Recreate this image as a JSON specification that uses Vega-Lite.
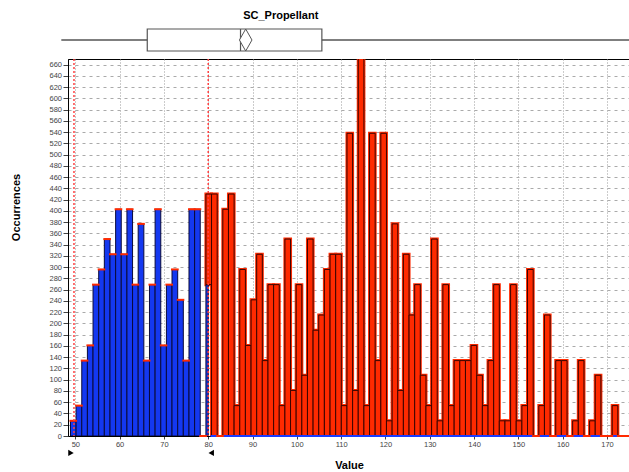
{
  "$schema": "https://vega.github.io/schema/vega-lite/v6.json",
  "padding": {"left": 9, "top": 10, "right": 0, "bottom": 0},
  "background": "white",
  "config": {
    "font": "Liberation Sans",
    "view": {"stroke": null},
    "axisX": {"labelFontSize": 7.5, "labelColor": "#444", "tickColor": "#444", "tickSize": 3, "labelPadding": 1, "titleFontSize": 11, "titleFontWeight": "bold", "titleColor": "#000", "titlePadding": 12, "gridColor": "#999", "gridDash": [1, 2], "domainColor": "#000", "tickCount": 13, "labelOverlap": false},
    "axisY": {"labelFontSize": 7.5, "labelColor": "#444", "tickColor": "#444", "tickSize": 5, "labelPadding": 1.5, "titleFontSize": 11, "titleFontWeight": "bold", "titleColor": "#000", "gridColor": "#aaa", "gridDash": [3, 4], "domainColor": "#000", "tickCount": 34, "labelOverlap": false}
  },
  "title": {"text": "SC_Propellant", "fontSize": 11, "fontWeight": "bold", "font": "Liberation Sans", "anchor": "middle", "dx": -50, "offset": 6},
  "datasets": {
    "box": [{"min": 46.84, "q1": 66.24, "median": 87.29, "q3": 105.65, "max": 180, "mean": 88.46}],
    "limits": [{"limit": 49.7, "side": "lower"}, {"limit": 80, "side": "upper"}],
    "hist": [
      {"grp":"< 80","lo":48.91,"hi":50.18,"n":27},
      {"grp":"< 80","lo":50.18,"hi":51.46,"n":54},
      {"grp":"< 80","lo":51.46,"hi":52.73,"n":134},
      {"grp":"< 80","lo":52.73,"hi":54.00,"n":161},
      {"grp":"< 80","lo":54.00,"hi":55.28,"n":269},
      {"grp":"< 80","lo":55.28,"hi":56.55,"n":296},
      {"grp":"< 80","lo":56.55,"hi":57.83,"n":350},
      {"grp":"< 80","lo":57.83,"hi":59.10,"n":323},
      {"grp":"< 80","lo":59.10,"hi":60.37,"n":403},
      {"grp":"< 80","lo":60.37,"hi":61.65,"n":323},
      {"grp":"< 80","lo":61.65,"hi":62.92,"n":403},
      {"grp":"< 80","lo":62.92,"hi":64.19,"n":269},
      {"grp":"< 80","lo":64.19,"hi":65.47,"n":377},
      {"grp":"< 80","lo":65.47,"hi":66.74,"n":134},
      {"grp":"< 80","lo":66.74,"hi":68.01,"n":269},
      {"grp":"< 80","lo":68.01,"hi":69.29,"n":403},
      {"grp":"< 80","lo":69.29,"hi":70.56,"n":161},
      {"grp":"< 80","lo":70.56,"hi":71.83,"n":269},
      {"grp":"< 80","lo":71.83,"hi":73.11,"n":296},
      {"grp":"< 80","lo":73.11,"hi":74.38,"n":242},
      {"grp":"< 80","lo":74.38,"hi":75.66,"n":134},
      {"grp":"< 80","lo":75.66,"hi":76.93,"n":403},
      {"grp":"< 80","lo":76.93,"hi":78.20,"n":403},
      {"grp":"< 80","lo":78.20,"hi":79.48,"n":0},
      {"grp":"< 80","lo":79.48,"hi":80.00,"n":269},
      {"grp":"< 80","lo":80.75,"hi":82.02,"n":0},
      {"grp":"< 80","lo":82.02,"hi":83.30,"n":0},
      {"grp":"< 80","lo":83.30,"hi":84.57,"n":0},
      {"grp":"< 80","lo":84.57,"hi":85.84,"n":0},
      {"grp":"< 80","lo":85.84,"hi":87.12,"n":0},
      {"grp":"< 80","lo":87.12,"hi":88.39,"n":0},
      {"grp":"< 80","lo":88.39,"hi":89.67,"n":0},
      {"grp":"< 80","lo":89.67,"hi":90.94,"n":0},
      {"grp":"< 80","lo":90.94,"hi":92.21,"n":0},
      {"grp":"< 80","lo":92.21,"hi":93.49,"n":0},
      {"grp":"< 80","lo":93.49,"hi":94.76,"n":0},
      {"grp":"< 80","lo":94.76,"hi":96.03,"n":0},
      {"grp":"< 80","lo":96.03,"hi":97.31,"n":0},
      {"grp":"< 80","lo":97.31,"hi":98.58,"n":0},
      {"grp":"< 80","lo":98.58,"hi":99.85,"n":0},
      {"grp":"< 80","lo":99.85,"hi":101.13,"n":0},
      {"grp":"< 80","lo":101.13,"hi":102.40,"n":0},
      {"grp":"< 80","lo":102.40,"hi":103.67,"n":0},
      {"grp":"< 80","lo":103.67,"hi":104.95,"n":0},
      {"grp":"< 80","lo":104.95,"hi":106.22,"n":0},
      {"grp":"< 80","lo":106.22,"hi":107.50,"n":0},
      {"grp":"< 80","lo":107.50,"hi":108.77,"n":0},
      {"grp":"< 80","lo":108.77,"hi":110.04,"n":0},
      {"grp":"< 80","lo":110.04,"hi":111.32,"n":0},
      {"grp":"< 80","lo":111.32,"hi":112.59,"n":0},
      {"grp":"< 80","lo":112.59,"hi":113.86,"n":0},
      {"grp":"< 80","lo":113.86,"hi":115.14,"n":0},
      {"grp":"< 80","lo":115.14,"hi":116.41,"n":0},
      {"grp":"< 80","lo":116.41,"hi":117.68,"n":0},
      {"grp":"< 80","lo":117.68,"hi":118.96,"n":0},
      {"grp":"< 80","lo":118.96,"hi":120.23,"n":0},
      {"grp":"< 80","lo":120.23,"hi":121.51,"n":0},
      {"grp":"< 80","lo":121.51,"hi":122.78,"n":0},
      {"grp":"< 80","lo":122.78,"hi":124.05,"n":0},
      {"grp":"< 80","lo":124.05,"hi":125.33,"n":0},
      {"grp":"< 80","lo":125.33,"hi":126.60,"n":0},
      {"grp":"< 80","lo":126.60,"hi":127.87,"n":0},
      {"grp":"< 80","lo":127.87,"hi":129.15,"n":0},
      {"grp":"< 80","lo":129.15,"hi":130.42,"n":0},
      {"grp":"< 80","lo":130.42,"hi":131.69,"n":0},
      {"grp":"< 80","lo":131.69,"hi":132.97,"n":0},
      {"grp":"< 80","lo":132.97,"hi":134.24,"n":0},
      {"grp":"< 80","lo":134.24,"hi":135.51,"n":0},
      {"grp":"< 80","lo":135.51,"hi":136.79,"n":0},
      {"grp":"< 80","lo":136.79,"hi":138.06,"n":0},
      {"grp":"< 80","lo":138.06,"hi":139.34,"n":0},
      {"grp":"< 80","lo":139.34,"hi":140.61,"n":0},
      {"grp":"< 80","lo":140.61,"hi":141.88,"n":0},
      {"grp":"< 80","lo":141.88,"hi":143.16,"n":0},
      {"grp":"< 80","lo":143.16,"hi":144.43,"n":0},
      {"grp":"< 80","lo":144.43,"hi":145.70,"n":0},
      {"grp":"< 80","lo":145.70,"hi":146.98,"n":0},
      {"grp":"< 80","lo":146.98,"hi":148.25,"n":0},
      {"grp":"< 80","lo":148.25,"hi":149.52,"n":0},
      {"grp":"< 80","lo":149.52,"hi":150.80,"n":0},
      {"grp":"< 80","lo":150.80,"hi":152.07,"n":0},
      {"grp":"< 80","lo":152.07,"hi":153.35,"n":0},
      {"grp":"< 80","lo":153.35,"hi":154.62,"n":0},
      {"grp":"< 80","lo":154.62,"hi":155.89,"n":0},
      {"grp":"< 80","lo":155.89,"hi":157.17,"n":0},
      {"grp":"< 80","lo":157.17,"hi":158.44,"n":0},
      {"grp":"< 80","lo":158.44,"hi":159.71,"n":0},
      {"grp":"< 80","lo":159.71,"hi":160.99,"n":0},
      {"grp":"< 80","lo":160.99,"hi":162.26,"n":0},
      {"grp":"< 80","lo":162.26,"hi":163.53,"n":0},
      {"grp":"< 80","lo":163.53,"hi":164.81,"n":0},
      {"grp":"< 80","lo":164.81,"hi":166.08,"n":0},
      {"grp":"< 80","lo":166.08,"hi":167.35,"n":0},
      {"grp":"< 80","lo":167.35,"hi":168.63,"n":0},
      {"grp":"< 80","lo":168.63,"hi":169.90,"n":0},
      {"grp":"< 80","lo":169.90,"hi":171.18,"n":0},
      {"grp":"< 80","lo":171.18,"hi":172.45,"n":0},
      {"grp":"≥ 80","lo":48.91,"hi":50.18,"n":0},
      {"grp":"≥ 80","lo":50.18,"hi":51.46,"n":0},
      {"grp":"≥ 80","lo":51.46,"hi":52.73,"n":0},
      {"grp":"≥ 80","lo":52.73,"hi":54.00,"n":0},
      {"grp":"≥ 80","lo":54.00,"hi":55.28,"n":0},
      {"grp":"≥ 80","lo":55.28,"hi":56.55,"n":0},
      {"grp":"≥ 80","lo":56.55,"hi":57.83,"n":0},
      {"grp":"≥ 80","lo":57.83,"hi":59.10,"n":0},
      {"grp":"≥ 80","lo":59.10,"hi":60.37,"n":0},
      {"grp":"≥ 80","lo":60.37,"hi":61.65,"n":0},
      {"grp":"≥ 80","lo":61.65,"hi":62.92,"n":0},
      {"grp":"≥ 80","lo":62.92,"hi":64.19,"n":0},
      {"grp":"≥ 80","lo":64.19,"hi":65.47,"n":0},
      {"grp":"≥ 80","lo":65.47,"hi":66.74,"n":0},
      {"grp":"≥ 80","lo":66.74,"hi":68.01,"n":0},
      {"grp":"≥ 80","lo":68.01,"hi":69.29,"n":0},
      {"grp":"≥ 80","lo":69.29,"hi":70.56,"n":0},
      {"grp":"≥ 80","lo":70.56,"hi":71.83,"n":0},
      {"grp":"≥ 80","lo":71.83,"hi":73.11,"n":0},
      {"grp":"≥ 80","lo":73.11,"hi":74.38,"n":0},
      {"grp":"≥ 80","lo":74.38,"hi":75.66,"n":0},
      {"grp":"≥ 80","lo":75.66,"hi":76.93,"n":0},
      {"grp":"≥ 80","lo":76.93,"hi":78.20,"n":0},
      {"grp":"≥ 80","lo":78.20,"hi":79.48,"n":0},
      {"grp":"≥ 80","lo":79.48,"hi":80.75,"n":161},
      {"grp":"≥ 80","lo":80.75,"hi":82.02,"n":430},
      {"grp":"≥ 80","lo":82.02,"hi":83.30,"n":0},
      {"grp":"≥ 80","lo":83.30,"hi":84.57,"n":403},
      {"grp":"≥ 80","lo":84.57,"hi":85.84,"n":430},
      {"grp":"≥ 80","lo":85.84,"hi":87.12,"n":54},
      {"grp":"≥ 80","lo":87.12,"hi":88.39,"n":296},
      {"grp":"≥ 80","lo":88.39,"hi":89.67,"n":161},
      {"grp":"≥ 80","lo":89.67,"hi":90.94,"n":242},
      {"grp":"≥ 80","lo":90.94,"hi":92.21,"n":323},
      {"grp":"≥ 80","lo":92.21,"hi":93.49,"n":134},
      {"grp":"≥ 80","lo":93.49,"hi":94.76,"n":269},
      {"grp":"≥ 80","lo":94.76,"hi":96.03,"n":269},
      {"grp":"≥ 80","lo":96.03,"hi":97.31,"n":54},
      {"grp":"≥ 80","lo":97.31,"hi":98.58,"n":350},
      {"grp":"≥ 80","lo":98.58,"hi":99.85,"n":81},
      {"grp":"≥ 80","lo":99.85,"hi":101.13,"n":269},
      {"grp":"≥ 80","lo":101.13,"hi":102.40,"n":108},
      {"grp":"≥ 80","lo":102.40,"hi":103.67,"n":350},
      {"grp":"≥ 80","lo":103.67,"hi":104.95,"n":188},
      {"grp":"≥ 80","lo":104.95,"hi":106.22,"n":215},
      {"grp":"≥ 80","lo":106.22,"hi":107.50,"n":296},
      {"grp":"≥ 80","lo":107.50,"hi":108.77,"n":323},
      {"grp":"≥ 80","lo":108.77,"hi":110.04,"n":323},
      {"grp":"≥ 80","lo":110.04,"hi":111.32,"n":54},
      {"grp":"≥ 80","lo":111.32,"hi":112.59,"n":538},
      {"grp":"≥ 80","lo":112.59,"hi":113.86,"n":81},
      {"grp":"≥ 80","lo":113.86,"hi":115.14,"n":672},
      {"grp":"≥ 80","lo":115.14,"hi":116.41,"n":54},
      {"grp":"≥ 80","lo":116.41,"hi":117.68,"n":538},
      {"grp":"≥ 80","lo":117.68,"hi":118.96,"n":134},
      {"grp":"≥ 80","lo":118.96,"hi":120.23,"n":538},
      {"grp":"≥ 80","lo":120.23,"hi":121.51,"n":27},
      {"grp":"≥ 80","lo":121.51,"hi":122.78,"n":377},
      {"grp":"≥ 80","lo":122.78,"hi":124.05,"n":81},
      {"grp":"≥ 80","lo":124.05,"hi":125.33,"n":323},
      {"grp":"≥ 80","lo":125.33,"hi":126.60,"n":215},
      {"grp":"≥ 80","lo":126.60,"hi":127.87,"n":269},
      {"grp":"≥ 80","lo":127.87,"hi":129.15,"n":108},
      {"grp":"≥ 80","lo":129.15,"hi":130.42,"n":54},
      {"grp":"≥ 80","lo":130.42,"hi":131.69,"n":350},
      {"grp":"≥ 80","lo":131.69,"hi":132.97,"n":27},
      {"grp":"≥ 80","lo":132.97,"hi":134.24,"n":269},
      {"grp":"≥ 80","lo":134.24,"hi":135.51,"n":54},
      {"grp":"≥ 80","lo":135.51,"hi":136.79,"n":134},
      {"grp":"≥ 80","lo":136.79,"hi":138.06,"n":134},
      {"grp":"≥ 80","lo":138.06,"hi":139.34,"n":134},
      {"grp":"≥ 80","lo":139.34,"hi":140.61,"n":161},
      {"grp":"≥ 80","lo":140.61,"hi":141.88,"n":108},
      {"grp":"≥ 80","lo":141.88,"hi":143.16,"n":54},
      {"grp":"≥ 80","lo":143.16,"hi":144.43,"n":134},
      {"grp":"≥ 80","lo":144.43,"hi":145.70,"n":269},
      {"grp":"≥ 80","lo":145.70,"hi":146.98,"n":27},
      {"grp":"≥ 80","lo":146.98,"hi":148.25,"n":27},
      {"grp":"≥ 80","lo":148.25,"hi":149.52,"n":269},
      {"grp":"≥ 80","lo":149.52,"hi":150.80,"n":27},
      {"grp":"≥ 80","lo":150.80,"hi":152.07,"n":54},
      {"grp":"≥ 80","lo":152.07,"hi":153.35,"n":296},
      {"grp":"≥ 80","lo":153.35,"hi":154.62,"n":0},
      {"grp":"≥ 80","lo":154.62,"hi":155.89,"n":54},
      {"grp":"≥ 80","lo":155.89,"hi":157.17,"n":215},
      {"grp":"≥ 80","lo":157.17,"hi":158.44,"n":0},
      {"grp":"≥ 80","lo":158.44,"hi":159.71,"n":134},
      {"grp":"≥ 80","lo":159.71,"hi":160.99,"n":134},
      {"grp":"≥ 80","lo":160.99,"hi":162.26,"n":0},
      {"grp":"≥ 80","lo":162.26,"hi":163.53,"n":27},
      {"grp":"≥ 80","lo":163.53,"hi":164.81,"n":134},
      {"grp":"≥ 80","lo":164.81,"hi":166.08,"n":0},
      {"grp":"≥ 80","lo":166.08,"hi":167.35,"n":27},
      {"grp":"≥ 80","lo":167.35,"hi":168.63,"n":108},
      {"grp":"≥ 80","lo":168.63,"hi":169.90,"n":0},
      {"grp":"≥ 80","lo":169.90,"hi":171.18,"n":0},
      {"grp":"≥ 80","lo":171.18,"hi":172.45,"n":54},
      {"grp":"≥ 80","lo":172.45,"hi":173.72,"n":0},
      {"grp":"≥ 80","lo":173.72,"hi":175.00,"n":0}
    ]
  },
  "spacing": 8,
  "bounds": "flush",
  "vconcat": [
    {
      "width": 562,
      "height": 22,
      "data": {"name": "box"},
      "layer": [
        {
          "mark": {"type": "rule", "color": "#555", "strokeWidth": 1.5},
          "encoding": {
            "x": {"field": "min", "type": "quantitative", "scale": {"domain": [48.35, 175.2], "nice": false, "zero": false}, "axis": null},
            "x2": {"field": "max"},
            "y": {"datum": 0.5, "type": "quantitative", "scale": {"domain": [0, 1], "nice": false}, "axis": null}
          }
        },
        {
          "mark": {"type": "bar", "fill": "white", "stroke": "#555", "strokeWidth": 1.2},
          "encoding": {
            "x": {"field": "q1", "type": "quantitative"},
            "x2": {"field": "q3"},
            "y": {"datum": 0, "type": "quantitative"},
            "y2": {"datum": 1}
          }
        },
        {
          "mark": {"type": "rule", "color": "#555", "strokeWidth": 1.2},
          "encoding": {
            "x": {"field": "median", "type": "quantitative"},
            "y": {"datum": 0, "type": "quantitative"},
            "y2": {"datum": 1}
          }
        },
        {
          "mark": {"type": "point", "shape": "M-0.57,0L0,-1L0.57,0L0,1Z", "size": 484, "filled": true, "fill": "white", "stroke": "#555", "strokeWidth": 1, "opacity": 1},
          "encoding": {
            "x": {"field": "mean", "type": "quantitative"},
            "y": {"datum": 0.5, "type": "quantitative"}
          }
        }
      ]
    },
    {
      "width": 562,
      "height": 377,
      "view": {"stroke": "#000", "strokeWidth": 1},
      "layer": [
        {
          "data": {"name": "hist"},
          "transform": [{"stack": "n", "groupby": ["lo"], "sort": [{"field": "grp", "order": "ascending"}], "as": ["y0", "y1"]}],
          "encoding": {
            "x": {"field": "lo", "type": "quantitative", "title": "Value", "scale": {"domain": [48.35, 175.2], "nice": false, "zero": false}},
            "x2": {"field": "hi"},
            "y": {"field": "y1", "type": "quantitative", "title": "Occurrences", "scale": {"domain": [0, 670], "nice": false}, "axis": {"titleX": -52, "titleY": 148, "titleBaseline": "middle"}},
            "y2": {"field": "y0"}
          },
          "layer": [
            {
              "transform": [{"filter": "datum.n > 0 && datum.grp == '≥ 80'"}],
              "mark": {"type": "bar", "clip": true, "fill": "#ff2a00", "stroke": "#ff2a00", "strokeWidth": 3}
            },
            {
              "transform": [{"filter": "datum.n > 0"}],
              "mark": {"type": "bar", "clip": true, "strokeWidth": 1},
              "encoding": {
                "fill": {"field": "grp", "type": "nominal", "scale": {"domain": ["< 80", "≥ 80"], "range": ["#1438f0", "#ff2a00"]}, "legend": null},
                "stroke": {"field": "grp", "type": "nominal", "scale": {"domain": ["< 80", "≥ 80"], "range": ["#0a0a3a", "#3a0500"]}, "legend": null}
              }
            },
            {
              "transform": [{"filter": "datum.n == 0"}],
              "mark": {"type": "rule", "strokeWidth": 2, "strokeCap": "square"},
              "encoding": {
                "color": {"field": "grp", "type": "nominal", "scale": {"domain": ["< 80", "≥ 80"], "range": ["#1a3cff", "#ff2a00"]}, "legend": null}
              }
            }
          ]
        },
        {
          "data": {"name": "limits"},
          "layer": [
            {
              "mark": {"type": "rule", "stroke": "#ff4040", "strokeDash": [2, 2], "strokeWidth": 1.5},
              "encoding": {"x": {"field": "limit", "type": "quantitative", "title": "Value"}}
            },
            {
              "transform": [{"filter": "datum.side == 'lower'"}],
              "mark": {"type": "point", "shape": "triangle-right", "filled": true, "color": "#000", "size": 40, "opacity": 1, "xOffset": -3},
              "encoding": {"x": {"field": "limit", "type": "quantitative", "title": "Value"}, "y": {"datum": -30, "type": "quantitative", "title": "Occurrences"}}
            },
            {
              "transform": [{"filter": "datum.side == 'upper'"}],
              "mark": {"type": "point", "shape": "triangle-left", "filled": true, "color": "#000", "size": 40, "opacity": 1, "xOffset": 3},
              "encoding": {"x": {"field": "limit", "type": "quantitative", "title": "Value"}, "y": {"datum": -30, "type": "quantitative", "title": "Occurrences"}}
            }
          ]
        }
      ]
    }
  ]
}
